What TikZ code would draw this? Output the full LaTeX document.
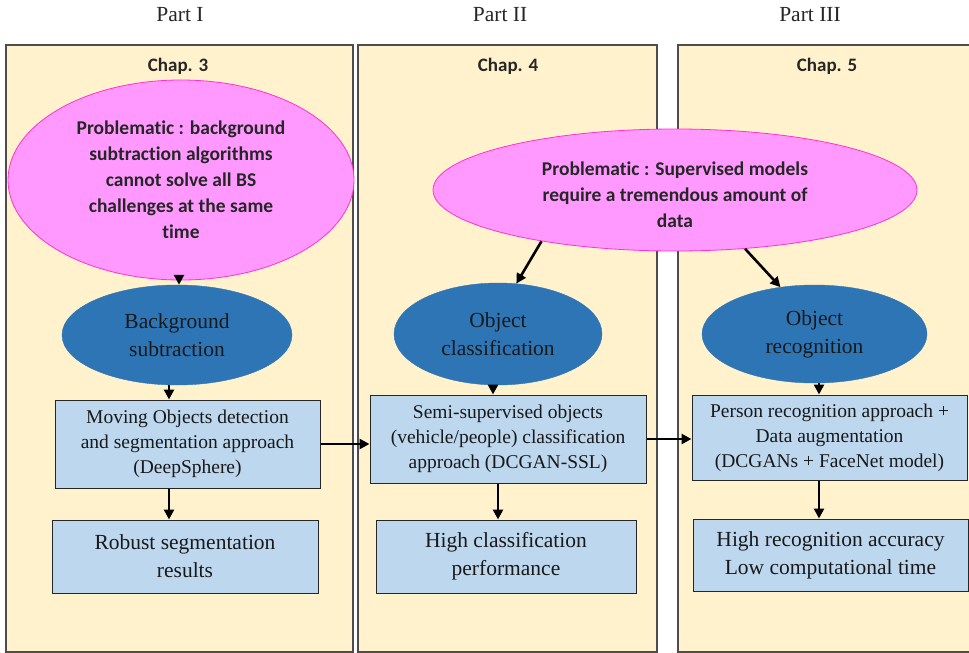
\documentclass[tikz,border=0pt]{standalone}
\usepackage{fontspec}
\setmainfont{Liberation Serif}
\newfontfamily\calib[RawFeature={-liga;-dlig;-calt}]{Carlito}
\usetikzlibrary{shapes.geometric,arrows.meta}
\definecolor{panel}{HTML}{FFF2CC}
\definecolor{pinkf}{HTML}{FF99FF}
\definecolor{pinkd}{HTML}{FF33CC}
\definecolor{bluee}{HTML}{2E75B6}
\definecolor{boxf}{HTML}{BDD7EE}
\definecolor{panelb}{HTML}{4D4D4D}
\begin{document}
\begin{tikzpicture}[x=1pt,y=-1pt,
 panelbox/.style={draw=panelb,fill=panel,line width=1.3pt},
 parttitle/.style={font=\fontsize{21.5}{24}\selectfont,text=black!85},
 chaptitle/.style={font=\calib\bfseries\fontsize{19}{21}\selectfont,text=black!85},
 prob/.style={ellipse,draw=pinkd,fill=pinkf,line width=0.8pt,inner sep=0pt,align=center,font=\calib\bfseries\fontsize{19.5}{26}\selectfont,text=black!85},
 topic/.style={ellipse,fill=bluee,draw=bluee,inner sep=0pt,align=center,font=\fontsize{21.5}{28}\selectfont,text=black!90},
 method/.style={rectangle,draw=black!85,fill=boxf,line width=1pt,inner sep=0pt,align=center,font=\fontsize{19.5}{25}\selectfont,text=black!90},
 result/.style={method,font=\fontsize{21.5}{28}\selectfont},
 arr/.style={-{Triangle[length=10pt,width=10pt]},line width=2.6pt,black}
]
\useasboundingbox (0,0) rectangle (969,653);
\clip (0,0) rectangle (969,653);
\fill[white] (0,0) rectangle (969,653);
% panels
\draw[panelbox] (6,45) rectangle (353,652);
\draw[panelbox] (358,45) rectangle (657,652);
\draw[panelbox] (678,45) rectangle (980,652);
% titles
\node[parttitle] (p1) at (180,15) {Part I};
\node[parttitle] (p2) at (500,15) {Part II};
\node[parttitle] (p3) at (810,15) {Part III};
\node[chaptitle] (c3) at (178,66) {Chap. 3};
\node[chaptitle] (c4) at (508,66) {Chap. 4};
\node[chaptitle] (c5) at (827,66) {Chap. 5};
% problem ellipses
\node[prob,minimum width=346pt,minimum height=200pt] (pink1) at (181,180)
 {Problematic : background\\subtraction algorithms\\cannot solve all BS\\challenges at the same\\time};
\node[prob,minimum width=484pt,minimum height=122pt] (pink2) at (675,190)
 {\raisebox{-5pt}[\height][\depth]{\parbox{300pt}{\centering Problematic : Supervised models\\require a tremendous amount of\\data}}};
% topic ellipses
\node[topic,minimum width=230pt,minimum height=100pt] (bs) at (177,335) {Background\\subtraction};
\node[topic,minimum width=208pt,minimum height=102pt] (oc) at (498,334) {Object\\classification};
\node[topic,minimum width=225pt,minimum height=98pt] (or) at (814.5,334) {Object\\recognition};
% method boxes
\node[method,minimum width=265pt,minimum height=88pt] (mov) at (187.5,444)
 {Moving Objects detection\\and segmentation approach\\(DeepSphere)};
\node[method,minimum width=276pt,minimum height=88pt] (semi) at (508,439)
 {Semi-supervised objects\\(vehicle/people) classification\\approach (DCGAN-SSL)};
\node[method,minimum width=275pt,minimum height=85pt] (per) at (829.5,437.5)
 {Person recognition approach +\\Data augmentation\\(DCGANs + FaceNet model)};
% result boxes
\node[result,minimum width=266pt,minimum height=73pt] (rob) at (185,556.5) {Robust segmentation\\results};
\node[result,minimum width=260pt,minimum height=73pt] (hcl) at (506,556.5) {High classification\\performance};
\node[result,minimum width=275pt,minimum height=72pt] (hrec) at (830.5,555) {High recognition accuracy\\Low computational time};
% connectors
\coordinate (a1) at (179,0);
\coordinate (a2) at (169,0);
\coordinate (a3) at (493,0);
\coordinate (a3b) at (498,0);
\coordinate (a4) at (819,0);
\draw[arr] (pink1.south -| a1) -- (bs.north -| a1);
\draw[arr] (bs.south -| a2) -- (mov.north -| a2);
\draw[arr] (mov.south -| a2) -- (rob.north -| a2);
\draw[arr] (mov.east) -- (semi.west |- mov.east);
\draw[arr] (semi.east) -- (per.west |- semi.east);
\draw[arr] (oc.south -| a3) -- (semi.north -| a3);
\draw[arr] (semi.south -| a3b) -- (hcl.north -| a3b);
\draw[arr] (or.south -| a4) -- (per.north -| a4);
\draw[arr] (per.south -| a4) -- (hrec.north -| a4);
\draw[arr] (pink2.201.5) -- (oc.70);
\draw[arr] (pink2.320) -- (or.126);
\end{tikzpicture}
\end{document}
